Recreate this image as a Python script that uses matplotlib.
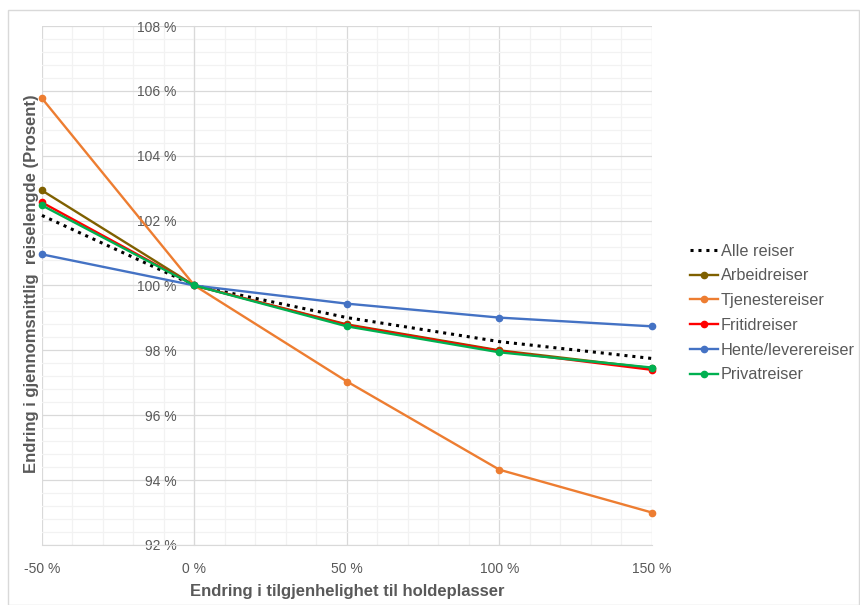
import matplotlib
matplotlib.use("Agg")
import matplotlib.pyplot as plt
from matplotlib.ticker import MultipleLocator, FuncFormatter
from matplotlib.patches import Rectangle

# endring i tilgjengelighet (prosent)
x_vals = [-50, 0, 50, 100, 150]

alle = [102.16, 100.0, 99.01, 98.27, 97.75]
arbeid = [102.93, 100.0, 98.80, 98.00, 97.45]
tjeneste = [105.77, 100.0, 97.04, 94.32, 93.00]
fritid = [102.56, 100.0, 98.78, 97.98, 97.40]
hente = [100.96, 100.0, 99.44, 99.01, 98.74]
privat = [102.47, 100.0, 98.74, 97.94, 97.47]

series_names = ["Arbeidreiser", "Tjenestereiser", "Fritidreiser",
                "Hente/leverereiser", "Privatreiser"]
series_vals = [arbeid, tjeneste, fritid, hente, privat]
series_cols = ["#7F6000", "#ED7D31", "#FF0000", "#4472C4", "#00B050"]

plt.rcParams['font.family'] = ['Liberation Sans', 'DejaVu Sans']
grey = "#595959"

fig = plt.figure(figsize=(8.6, 6.05), dpi=100)
ax = fig.add_axes([0.0488, 0.0992, 0.7093, 0.8578])

# thin frame round the whole chart
fig.patches.append(Rectangle((8 / 860, 0), 1 - 9 / 860, 1 - 10 / 605,
                             transform=fig.transFigure, fill=False,
                             edgecolor="#D9D9D9", linewidth=1))

ax.plot(x_vals, alle, color="black", linestyle=(0, (1, 1.6)), linewidth=2.2,
        label="Alle reiser", zorder=3, clip_on=False)
for name, vals, col in zip(series_names, series_vals, series_cols):
    ax.plot(x_vals, vals, color=col, linewidth=1.7, marker="o", markersize=4.5,
            label=name, zorder=3, clip_on=False)

ax.set_xlim(-50, 150)
ax.set_ylim(92, 108)
ax.xaxis.set_major_locator(MultipleLocator(50))
ax.xaxis.set_minor_locator(MultipleLocator(10))
ax.yaxis.set_major_locator(MultipleLocator(2))
ax.yaxis.set_minor_locator(MultipleLocator(0.4))
ax.grid(which="major", color="#D9D9D9", linewidth=0.9, zorder=0)
ax.grid(which="minor", color="#F2F2F2", linewidth=0.9, zorder=0)
ax.set_axisbelow(True)

ax.xaxis.set_major_formatter(FuncFormatter(lambda v, p: f"{v:.0f} %"))
ax.yaxis.set_major_formatter(FuncFormatter(lambda v, p: f"{v:.0f} %"))
ax.tick_params(which="both", length=0, colors=grey, labelsize=10)
ax.tick_params(axis="x", pad=12)
ax.tick_params(axis="y", pad=13)

for s in ["top", "right"]:
    ax.spines[s].set_visible(False)
ax.spines["left"].set_position(("data", 0))
ax.spines["left"].set_color("#D9D9D9")
ax.spines["bottom"].set_color("#D9D9D9")

ax.set_xlabel("Endring i tilgjenhelighet til holdeplasser", fontsize=12,
              fontweight="bold", color=grey, labelpad=6)
fig.text(0.037, 0.531, "Endring i gjennomsnittlig  reiselengde (Prosent)",
         rotation=90, ha="center", va="center", fontsize=12,
         fontweight="bold", color=grey)

leg = ax.legend(loc="center left", bbox_to_anchor=(1.052, 0.447), frameon=False,
                fontsize=11.7, handlelength=1.7, handletextpad=0.2,
                labelspacing=0.6, borderaxespad=0)
for t in leg.get_texts():
    t.set_color(grey)

fig.savefig("out.png", dpi=100)
